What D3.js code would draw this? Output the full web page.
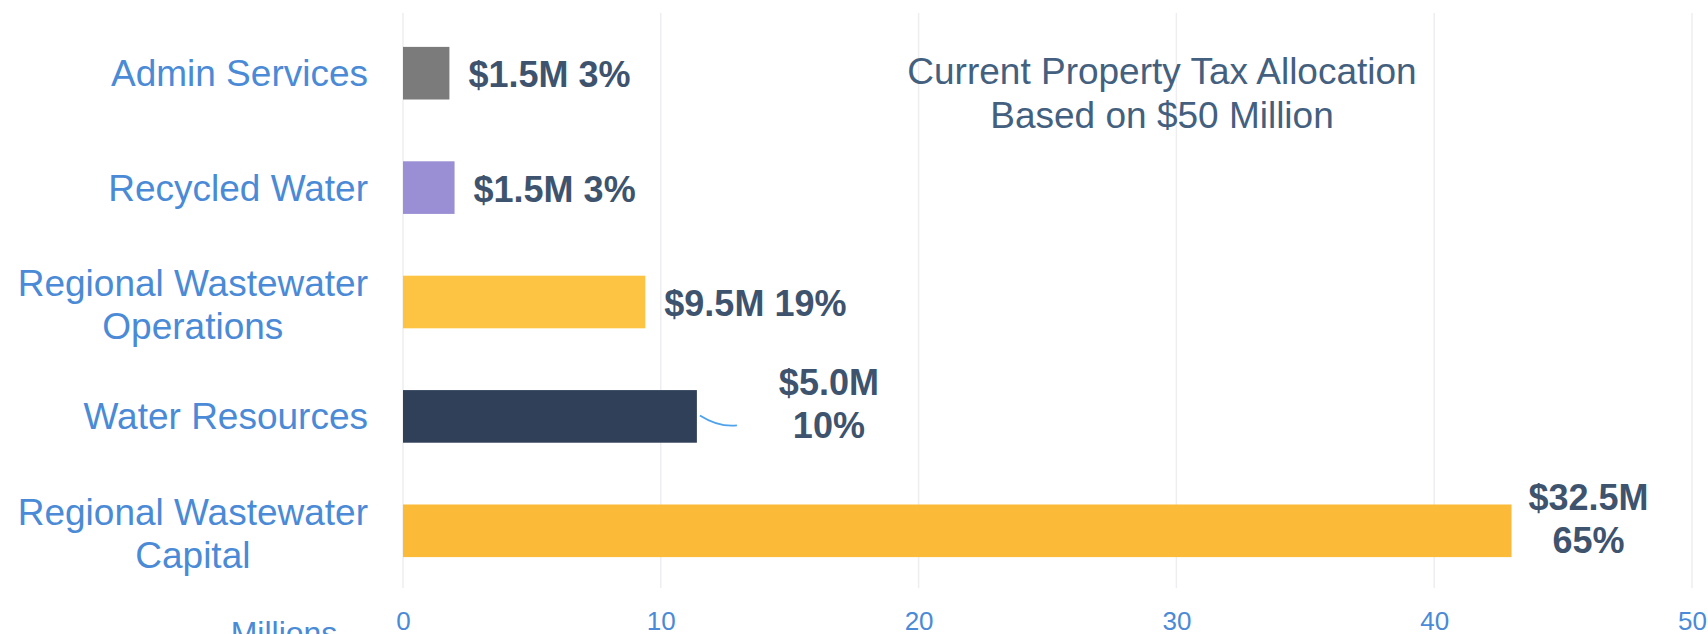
<!DOCTYPE html>
<html lang="en">
<head>
    <meta charset="UTF-8">
    <title>Current Property Tax Allocation</title>
    <script src="https://d3js.org/d3.v7.min.js"></script>
    <style>
        html, body { margin: 0; padding: 0; background: #ffffff; }
        svg { display: block; font-family: "Liberation Sans", Arial, sans-serif; }
    </style>
</head>
<body>
    <div id="chart"></div>
    <script>
        // chart data, top to bottom
        const categories = [
            ["Admin Services"],
            ["Recycled Water"],
            ["Regional Wastewater", "Operations"],
            ["Water Resources"],
            ["Regional Wastewater", "Capital"]
        ];
        const barValues = [1.8, 2.0, 9.4, 11.4, 43.0];   // bar lengths as drawn (millions)
        const amountLabels = ["$1.5M", "$1.5M", "$9.5M", "$5.0M", "$32.5M"];
        const percentLabels = ["3%", "3%", "19%", "10%", "65%"];
        const barColors = ["#7b7b7b", "#9a8fd4", "#fdc444", "#2f4058", "#fbbb38"];
        const xTicks = [0, 10, 20, 30, 40, 50];
        const titleLines = ["Current Property Tax Allocation", "Based on $50 Million"];

        const width = 1708;
        const height = 634;

        const svg = d3.select("#chart").append("svg")
            .attr("width", width)
            .attr("height", height);

        const x = d3.scaleLinear()
            .domain([0, 50])
            .range([403, 1692]);

        const y = d3.scaleBand()
            .domain(d3.range(categories.length))
            .range([16, 588])
            .paddingInner(0.54)
            .paddingOuter(0.27);

        const rows = categories.map((c, i) => ({
            lines: c,
            value: barValues[i],
            amount: amountLabels[i],
            pct: percentLabels[i],
            color: barColors[i],
            i: i
        }));

        // gridlines
        svg.append("g")
            .selectAll("line")
            .data(xTicks)
            .join("line")
            .attr("x1", d => x(d))
            .attr("x2", d => x(d))
            .attr("y1", 13)
            .attr("y2", 588)
            .attr("stroke", "#eeeef2")
            .attr("stroke-width", 1.5);

        // x axis tick labels
        const xAxis = d3.axisBottom(x).tickValues(xTicks).tickSize(0).tickPadding(0);
        const axisG = svg.append("g")
            .attr("transform", "translate(0,610)")
            .call(xAxis);
        axisG.select(".domain").remove();
        axisG.selectAll("text")
            .attr("dy", null)
            .attr("y", 20)
            .style("font-size", "26px")
            .style("font-family", "'Liberation Sans', Arial, sans-serif")
            .attr("fill", "#4a8ad6");

        svg.append("text")
            .attr("x", 284)
            .attr("y", 644)
            .attr("text-anchor", "middle")
            .style("font-size", "32px")
            .attr("fill", "#4a8ad6")
            .text("Millions");

        // bars
        svg.append("g")
            .selectAll("rect")
            .data(rows)
            .join("rect")
            .attr("x", x(0))
            .attr("y", d => y(d.i))
            .attr("width", d => x(d.value) - x(0))
            .attr("height", y.bandwidth())
            .attr("fill", d => d.color);

        // category labels: right-aligned block, lines centred on each other
        const labelRight = 368;
        const lineGap = 43;
        rows.forEach(d => {
            const cy = y(d.i) + y.bandwidth() / 2;
            const g = svg.append("g");
            const texts = d.lines.map((ln, k) => g.append("text")
                .attr("y", d.lines.length === 1 ? cy + 13 : cy - 6 + k * lineGap)
                .attr("text-anchor", "middle")
                .style("font-size", "37px")
                .attr("fill", "#4a8ad6")
                .text(ln));
            const maxW = d3.max(texts, t => t.node().getComputedTextLength());
            texts.forEach(t => t.attr("x", labelRight - maxW / 2));
        });

        // value labels
        const valueColor = "#3e536d";
        const callouts = {
            3: { dx: 132, leader: true },
            4: { dx: 77, leader: false }
        };
        rows.forEach(d => {
            const cy = y(d.i) + y.bandwidth() / 2;
            const end = x(d.value);
            const c = callouts[d.i];
            if (!c) {
                svg.append("text")
                    .attr("x", end + 19)
                    .attr("y", cy + 14)
                    .style("font-size", "36px")
                    .style("font-weight", "bold")
                    .attr("fill", valueColor)
                    .text(d.amount + " " + d.pct);
            } else {
                const cx = end + c.dx;
                [d.amount, d.pct].forEach((t, k) => {
                    svg.append("text")
                        .attr("x", cx)
                        .attr("y", cy - 21 + k * 43)
                        .attr("text-anchor", "middle")
                        .style("font-size", "36px")
                        .style("font-weight", "bold")
                        .attr("fill", valueColor)
                        .text(t);
                });
                if (c.leader) {
                    svg.append("path")
                        .attr("d", `M${end + 3},${cy - 1} Q${end + 22},${cy + 11} ${end + 40},${cy + 9}`)
                        .attr("fill", "none")
                        .attr("stroke", "#4ea2ec")
                        .attr("stroke-width", 1.8);
                }
            }
        });

        // title
        svg.append("g")
            .selectAll("text")
            .data(titleLines)
            .join("text")
            .attr("x", 1162)
            .attr("y", (d, i) => 84 + i * 44)
            .attr("text-anchor", "middle")
            .style("font-size", "37px")
            .attr("fill", "#44607f")
            .text(d => d);
    </script>
</body>
</html>
